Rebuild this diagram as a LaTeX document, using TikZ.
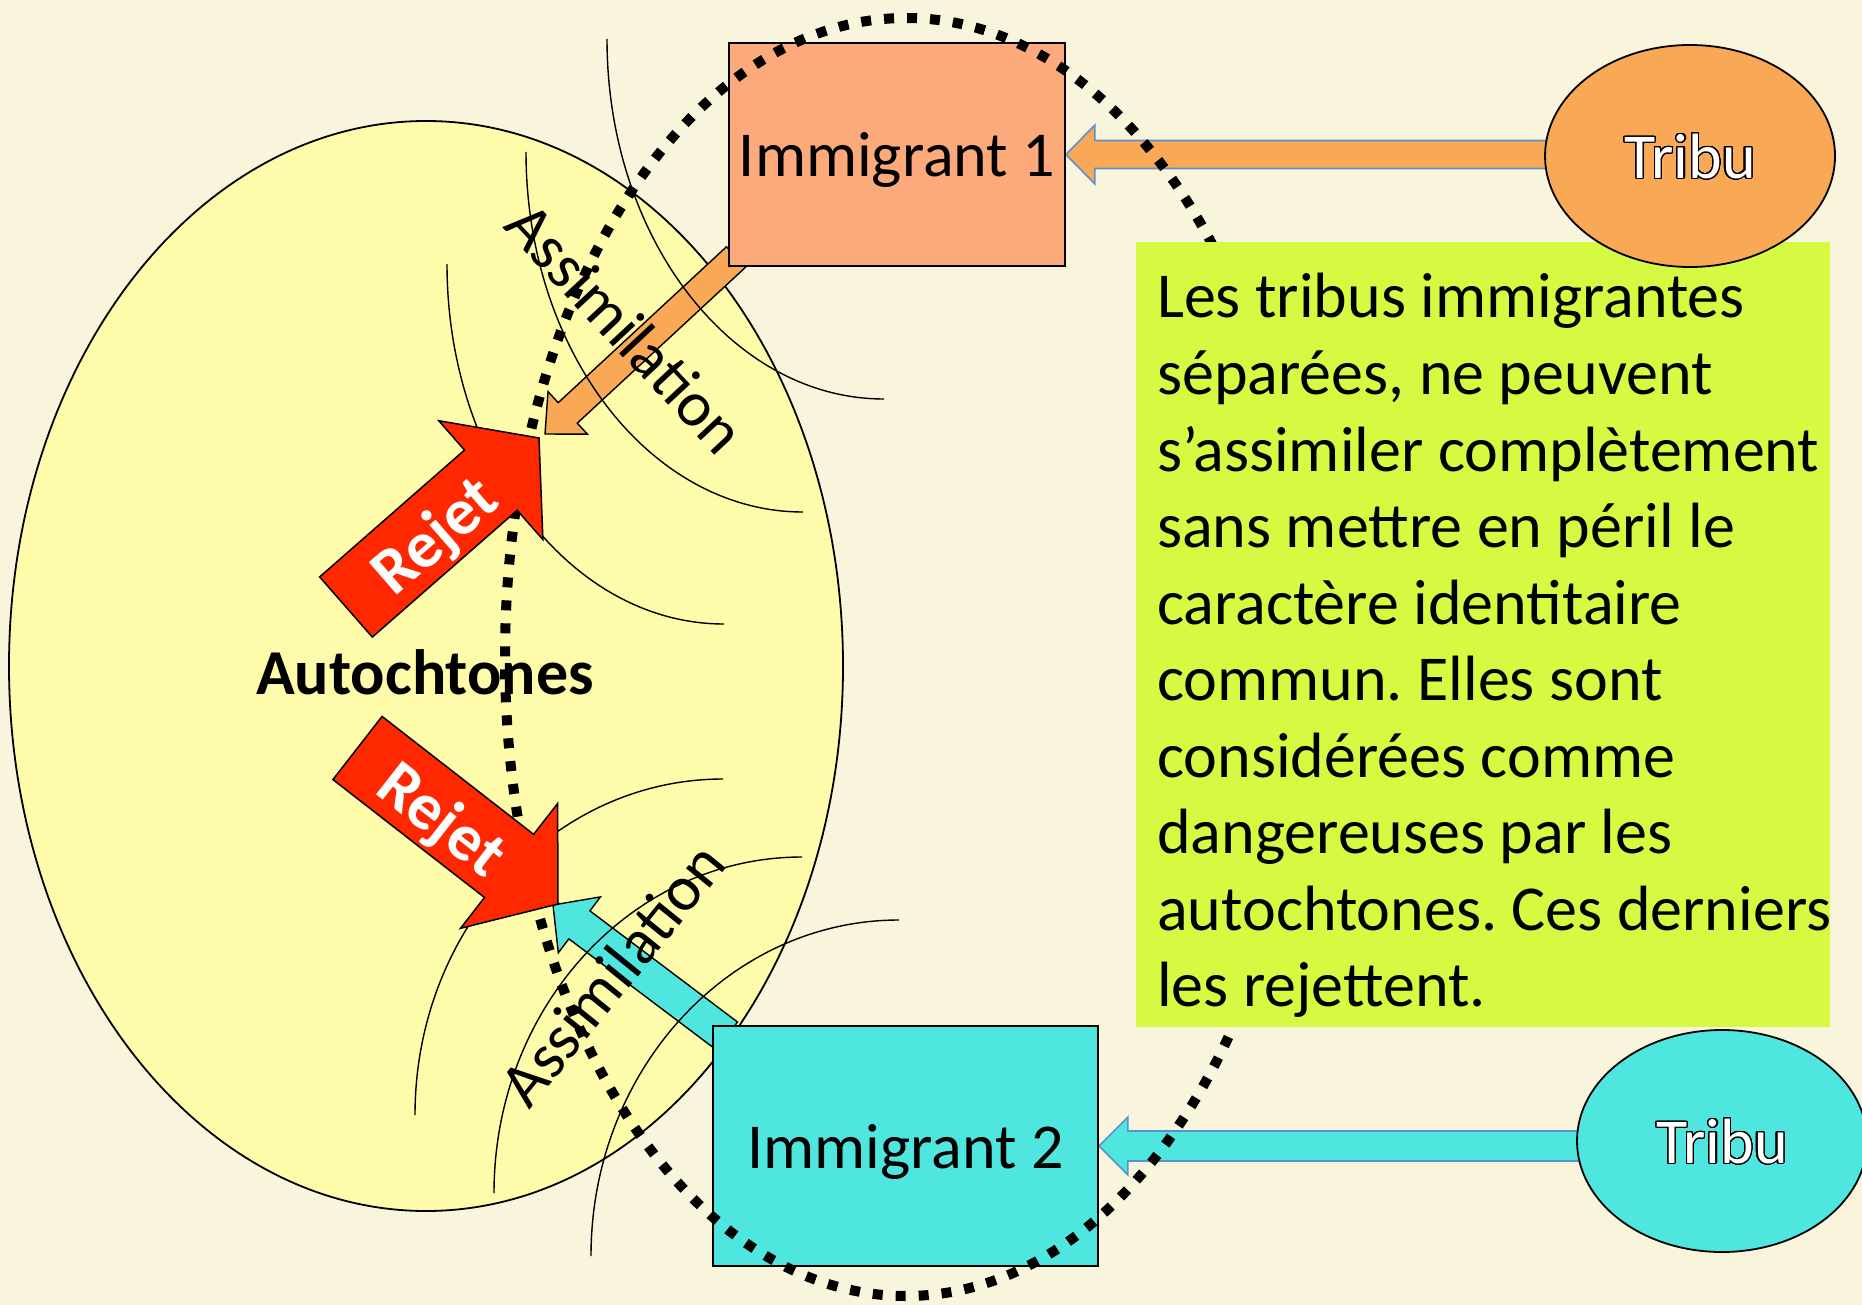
\documentclass[tikz,border=0pt]{standalone}
\usepackage{fontspec}
\setmainfont{Carlito}
\usepackage{contour}
\contourlength{1.2pt}
\contournumber{32}
\usetikzlibrary{calc,shapes.geometric}
\frenchspacing
\definecolor{bgcream}{HTML}{F9F5DC}
\definecolor{autoyellow}{HTML}{FEFCAA}
\definecolor{salmon}{HTML}{FCAA7B}
\definecolor{orangeT}{HTML}{F9A856}
\definecolor{cyanT}{HTML}{50E6E0}
\definecolor{limeN}{HTML}{D5FA41}
\definecolor{redR}{HTML}{FF2800}
\definecolor{arrowblue}{HTML}{5B8FD0}
\pgfdeclarelayer{back}
\pgfdeclarelayer{arrowlayer}
\pgfsetlayers{back,arrowlayer,main}
% #1 style, #2 tail, #3 tip, #4 shaft half width, #5 head half width, #6 head length
\newcommand\blockarr[6]{%
  \coordinate (bahead) at ($(#3)!#6!(#2)$);
  \path[#1] ($(#2)!#4!90:(#3)$) -- ($(bahead)!#4!-90:(#2)$) -- ($(bahead)!#5!-90:(#2)$)
    -- (#3) -- ($(bahead)!#5!90:(#2)$) -- ($(bahead)!#4!90:(#2)$) -- ($(#2)!#4!-90:(#3)$) -- cycle;}
\begin{document}
\begin{tikzpicture}[x=1pt,y=-1pt,
  font=\fontsize{64pt}{76.6pt}\selectfont,
  autoshape/.style={ellipse,draw=black,line width=1.8pt,fill=autoyellow,minimum width=834pt,minimum height=1090pt,inner sep=0pt},
  immbox/.style={rectangle,draw=black,line width=1.8pt,inner sep=0pt,text depth=0pt},
  tribu/.style={ellipse,draw=black,line width=1.8pt,minimum width=290pt,minimum height=222pt,inner sep=0pt,text=white,text depth=0pt},
  notebox/.style={rectangle,fill=limeN,minimum width=694pt,minimum height=785pt,inner sep=0pt},
  notetext/.style={anchor=base west,inner sep=0pt},
  thinarc/.style={draw=black,line width=1.4pt},
  dotring/.style={draw=black,line width=10pt,dash pattern=on 10pt off 13pt},
  rejetarrow/.style={draw=black,line width=1.5pt,fill=redR,line join=miter},
  rejettext/.style={text=white,font=\fontsize{66pt}{70pt}\selectfont\bfseries,inner sep=0pt},
  diagarrowO/.style={draw=black,line width=1.4pt,fill=orangeT},
  diagarrowC/.style={draw=black,line width=1.4pt,fill=cyanT},
  harrowO/.style={draw=arrowblue,line width=1.6pt,fill=orangeT},
  harrowC/.style={draw=arrowblue,line width=1.6pt,fill=cyanT},
  assim/.style={inner sep=0pt}]
\begin{pgfonlayer}{back}
\fill[bgcream] (0,0) rectangle (1862,1305);
\node[autoshape] (auto) at (426,666) {};
\end{pgfonlayer}
\useasboundingbox (0,0) rectangle (1862,1305);

% immigrant boxes
\node[immbox,fill=salmon,minimum width=336pt,minimum height=223pt] (imm1) at (897,154.5) {Immigrant 1};
\node[immbox,fill=cyanT,minimum width=385pt,minimum height=240pt] (imm2) at (905.5,1146) {Immigrant 2};

% thin arcs
\foreach \ax/\ay in {607/39, 526/152, 447/264}
  \draw[thinarc] (\ax,\ay) arc[start angle=180, end angle=90, x radius=277, y radius=360];
\foreach \ax/\ay in {723/779, 802/857, 899/920}
  \draw[thinarc] (\ax,\ay) arc[start angle=270, end angle=180, x radius=308, y radius=336];

% label
\node[anchor=base,inner sep=0pt,font=\fontsize{64pt}{76.6pt}\selectfont\bfseries] (autolabel) at (425,694) {Autochtones};

% dotted ring
\draw[dotring] (906,657) ellipse [x radius=401, y radius=639];

% red arrows
\coordinate (r1tail) at (346,607);
\coordinate (r1tip) at (539,438);
\blockarr{rejetarrow}{r1tail}{r1tip}{40pt}{79pt}{64pt}
\node[rejettext,rotate=41] (rejet1) at (437,538) {Rejet};
\coordinate (r2tail) at (357.5,748);
\coordinate (r2tip) at (558,904);
\blockarr{rejetarrow}{r2tail}{r2tip}{40pt}{79pt}{62pt}
\node[rejettext,rotate=-38] (rejet2) at (440,822) {Rejet};

% green note
\node[notebox] (note) at (1483,634.5) {};
\foreach \t [count=\i] in {Les tribus immigrantes, {séparées, ne peuvent}, s’assimiler complètement,
  sans mettre en péril le, caractère identitaire, commun. Elles sont, considérées comme,
  dangereuses par les, autochtones. Ces derniers, les rejettent.}
  \node[notetext] (line\i) at (1157,{318+76.55*(\i-1)}) {\t};

% tribus
\node[tribu,fill=orangeT] (tribu1) at (1690,156) {\contour{black}{Tribu}};
\node[tribu,fill=cyanT] (tribu2) at (1722,1141) {\contour{black}{Tribu}};

% assimilation labels
\node[assim,rotate=-47] (assim1) at (626,328) {Assimilation};
\node[assim,rotate=51] (assim2) at (612,974) {Assimilation};

% arrows (below boxes)
\begin{pgfonlayer}{arrowlayer}
\coordinate (h1tail) at (imm1.east -| tribu1.center);
\blockarr{harrowO}{h1tail}{imm1.east}{14pt}{29.5pt}{29pt}
\coordinate (h2tail) at (imm2.east -| tribu2.center);
\blockarr{harrowC}{h2tail}{imm2.east}{15pt}{29pt}{29pt}
\coordinate (a1tail) at (736,257);
\coordinate (a1tip) at (545,434);
\blockarr{diagarrowO}{a1tail}{a1tip}{14pt}{29pt}{31pt}
\coordinate (a2tail) at (727,1036);
\coordinate (a2tip) at (553,905);
\blockarr{diagarrowC}{a2tail}{a2tip}{17.5pt}{35pt}{33pt}
\end{pgfonlayer}
\end{tikzpicture}
\end{document}
